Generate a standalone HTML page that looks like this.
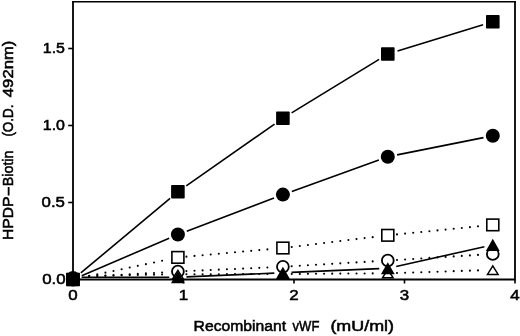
<!DOCTYPE html>
<html><head><meta charset="utf-8"><title>Figure</title>
<style>html,body{margin:0;padding:0;background:#fff}svg{display:block}</style>
</head><body>
<svg width="520" height="336" viewBox="0 0 520 336">
<rect width="520" height="336" fill="#fff"/>
<path d="M73.0 1.0 V279.5 H515.0 V1.0" fill="none" stroke="#000" stroke-width="1.8" stroke-linejoin="miter"/>
<line x1="72.1" y1="1.75" x2="515.9" y2="1.75" stroke="#000" stroke-width="1.5"/>
<line x1="73.00" y1="279.5" x2="73.00" y2="283.5" stroke="#000" stroke-width="1.6"/>
<line x1="183.50" y1="279.5" x2="183.50" y2="283.5" stroke="#000" stroke-width="1.6"/>
<line x1="294.00" y1="279.5" x2="294.00" y2="283.5" stroke="#000" stroke-width="1.6"/>
<line x1="404.50" y1="279.5" x2="404.50" y2="283.5" stroke="#000" stroke-width="1.6"/>
<line x1="515.00" y1="279.5" x2="515.00" y2="283.5" stroke="#000" stroke-width="1.6"/>
<line x1="68.2" y1="279.5" x2="73.0" y2="279.5" stroke="#000" stroke-width="1.6"/>
<line x1="68.2" y1="202.5" x2="73.0" y2="202.5" stroke="#000" stroke-width="1.6"/>
<line x1="68.2" y1="125.5" x2="73.0" y2="125.5" stroke="#000" stroke-width="1.6"/>
<line x1="68.2" y1="48.5" x2="73.0" y2="48.5" stroke="#000" stroke-width="1.6"/>
<circle cx="89.20" cy="275.74" r="1.05" fill="#000"/>
<circle cx="97.30" cy="275.61" r="1.05" fill="#000"/>
<circle cx="105.40" cy="275.47" r="1.05" fill="#000"/>
<circle cx="113.50" cy="275.34" r="1.05" fill="#000"/>
<circle cx="121.60" cy="275.21" r="1.05" fill="#000"/>
<circle cx="129.70" cy="275.08" r="1.05" fill="#000"/>
<circle cx="137.80" cy="274.95" r="1.05" fill="#000"/>
<circle cx="145.90" cy="274.82" r="1.05" fill="#000"/>
<circle cx="154.00" cy="274.69" r="1.05" fill="#000"/>
<circle cx="162.10" cy="274.56" r="1.05" fill="#000"/>
<circle cx="186.40" cy="274.28" r="1.05" fill="#000"/>
<circle cx="194.50" cy="274.25" r="1.05" fill="#000"/>
<circle cx="202.60" cy="274.23" r="1.05" fill="#000"/>
<circle cx="210.70" cy="274.21" r="1.05" fill="#000"/>
<circle cx="218.80" cy="274.18" r="1.05" fill="#000"/>
<circle cx="226.90" cy="274.16" r="1.05" fill="#000"/>
<circle cx="235.00" cy="274.14" r="1.05" fill="#000"/>
<circle cx="243.10" cy="274.11" r="1.05" fill="#000"/>
<circle cx="251.20" cy="274.09" r="1.05" fill="#000"/>
<circle cx="259.30" cy="274.07" r="1.05" fill="#000"/>
<circle cx="267.40" cy="274.04" r="1.05" fill="#000"/>
<circle cx="291.70" cy="273.94" r="1.05" fill="#000"/>
<circle cx="299.80" cy="273.89" r="1.05" fill="#000"/>
<circle cx="307.90" cy="273.83" r="1.05" fill="#000"/>
<circle cx="316.00" cy="273.78" r="1.05" fill="#000"/>
<circle cx="324.10" cy="273.73" r="1.05" fill="#000"/>
<circle cx="332.20" cy="273.67" r="1.05" fill="#000"/>
<circle cx="340.30" cy="273.62" r="1.05" fill="#000"/>
<circle cx="348.40" cy="273.56" r="1.05" fill="#000"/>
<circle cx="356.50" cy="273.51" r="1.05" fill="#000"/>
<circle cx="364.60" cy="273.45" r="1.05" fill="#000"/>
<circle cx="372.70" cy="273.40" r="1.05" fill="#000"/>
<circle cx="397.00" cy="273.00" r="1.05" fill="#000"/>
<circle cx="405.10" cy="272.74" r="1.05" fill="#000"/>
<circle cx="413.20" cy="272.48" r="1.05" fill="#000"/>
<circle cx="421.30" cy="272.22" r="1.05" fill="#000"/>
<circle cx="429.40" cy="271.95" r="1.05" fill="#000"/>
<circle cx="437.50" cy="271.69" r="1.05" fill="#000"/>
<circle cx="445.60" cy="271.43" r="1.05" fill="#000"/>
<circle cx="453.70" cy="271.17" r="1.05" fill="#000"/>
<circle cx="461.80" cy="270.90" r="1.05" fill="#000"/>
<circle cx="469.90" cy="270.64" r="1.05" fill="#000"/>
<circle cx="478.00" cy="270.38" r="1.05" fill="#000"/>
<circle cx="89.20" cy="276.83" r="1.05" fill="#000"/>
<circle cx="97.30" cy="276.34" r="1.05" fill="#000"/>
<circle cx="105.40" cy="275.85" r="1.05" fill="#000"/>
<circle cx="113.50" cy="275.37" r="1.05" fill="#000"/>
<circle cx="121.60" cy="274.88" r="1.05" fill="#000"/>
<circle cx="129.70" cy="274.39" r="1.05" fill="#000"/>
<circle cx="137.80" cy="273.91" r="1.05" fill="#000"/>
<circle cx="145.90" cy="273.42" r="1.05" fill="#000"/>
<circle cx="154.00" cy="272.94" r="1.05" fill="#000"/>
<circle cx="162.10" cy="272.45" r="1.05" fill="#000"/>
<circle cx="186.40" cy="271.12" r="1.05" fill="#000"/>
<circle cx="194.50" cy="270.76" r="1.05" fill="#000"/>
<circle cx="202.60" cy="270.39" r="1.05" fill="#000"/>
<circle cx="210.70" cy="270.03" r="1.05" fill="#000"/>
<circle cx="218.80" cy="269.67" r="1.05" fill="#000"/>
<circle cx="226.90" cy="269.31" r="1.05" fill="#000"/>
<circle cx="235.00" cy="268.94" r="1.05" fill="#000"/>
<circle cx="243.10" cy="268.58" r="1.05" fill="#000"/>
<circle cx="251.20" cy="268.22" r="1.05" fill="#000"/>
<circle cx="259.30" cy="267.86" r="1.05" fill="#000"/>
<circle cx="267.40" cy="267.49" r="1.05" fill="#000"/>
<circle cx="291.70" cy="266.27" r="1.05" fill="#000"/>
<circle cx="299.80" cy="265.79" r="1.05" fill="#000"/>
<circle cx="307.90" cy="265.30" r="1.05" fill="#000"/>
<circle cx="316.00" cy="264.81" r="1.05" fill="#000"/>
<circle cx="324.10" cy="264.33" r="1.05" fill="#000"/>
<circle cx="332.20" cy="263.84" r="1.05" fill="#000"/>
<circle cx="340.30" cy="263.35" r="1.05" fill="#000"/>
<circle cx="348.40" cy="262.87" r="1.05" fill="#000"/>
<circle cx="356.50" cy="262.38" r="1.05" fill="#000"/>
<circle cx="364.60" cy="261.89" r="1.05" fill="#000"/>
<circle cx="372.70" cy="261.41" r="1.05" fill="#000"/>
<circle cx="397.00" cy="259.93" r="1.05" fill="#000"/>
<circle cx="405.10" cy="259.43" r="1.05" fill="#000"/>
<circle cx="413.20" cy="258.93" r="1.05" fill="#000"/>
<circle cx="421.30" cy="258.43" r="1.05" fill="#000"/>
<circle cx="429.40" cy="257.92" r="1.05" fill="#000"/>
<circle cx="437.50" cy="257.42" r="1.05" fill="#000"/>
<circle cx="445.60" cy="256.92" r="1.05" fill="#000"/>
<circle cx="453.70" cy="256.42" r="1.05" fill="#000"/>
<circle cx="461.80" cy="255.92" r="1.05" fill="#000"/>
<circle cx="469.90" cy="255.42" r="1.05" fill="#000"/>
<circle cx="478.00" cy="254.92" r="1.05" fill="#000"/>
<circle cx="89.20" cy="276.09" r="1.05" fill="#000"/>
<circle cx="97.30" cy="274.38" r="1.05" fill="#000"/>
<circle cx="105.40" cy="272.67" r="1.05" fill="#000"/>
<circle cx="113.50" cy="270.97" r="1.05" fill="#000"/>
<circle cx="121.60" cy="269.26" r="1.05" fill="#000"/>
<circle cx="129.70" cy="267.55" r="1.05" fill="#000"/>
<circle cx="137.80" cy="265.85" r="1.05" fill="#000"/>
<circle cx="145.90" cy="264.14" r="1.05" fill="#000"/>
<circle cx="154.00" cy="262.44" r="1.05" fill="#000"/>
<circle cx="162.10" cy="260.73" r="1.05" fill="#000"/>
<circle cx="186.40" cy="256.64" r="1.05" fill="#000"/>
<circle cx="194.50" cy="255.91" r="1.05" fill="#000"/>
<circle cx="202.60" cy="255.19" r="1.05" fill="#000"/>
<circle cx="210.70" cy="254.46" r="1.05" fill="#000"/>
<circle cx="218.80" cy="253.74" r="1.05" fill="#000"/>
<circle cx="226.90" cy="253.01" r="1.05" fill="#000"/>
<circle cx="235.00" cy="252.29" r="1.05" fill="#000"/>
<circle cx="243.10" cy="251.56" r="1.05" fill="#000"/>
<circle cx="251.20" cy="250.84" r="1.05" fill="#000"/>
<circle cx="259.30" cy="250.11" r="1.05" fill="#000"/>
<circle cx="267.40" cy="249.39" r="1.05" fill="#000"/>
<circle cx="291.70" cy="246.93" r="1.05" fill="#000"/>
<circle cx="299.80" cy="245.95" r="1.05" fill="#000"/>
<circle cx="307.90" cy="244.97" r="1.05" fill="#000"/>
<circle cx="316.00" cy="243.99" r="1.05" fill="#000"/>
<circle cx="324.10" cy="243.01" r="1.05" fill="#000"/>
<circle cx="332.20" cy="242.03" r="1.05" fill="#000"/>
<circle cx="340.30" cy="241.05" r="1.05" fill="#000"/>
<circle cx="348.40" cy="240.07" r="1.05" fill="#000"/>
<circle cx="356.50" cy="239.09" r="1.05" fill="#000"/>
<circle cx="364.60" cy="238.11" r="1.05" fill="#000"/>
<circle cx="372.70" cy="237.13" r="1.05" fill="#000"/>
<circle cx="397.00" cy="234.39" r="1.05" fill="#000"/>
<circle cx="405.10" cy="233.59" r="1.05" fill="#000"/>
<circle cx="413.20" cy="232.78" r="1.05" fill="#000"/>
<circle cx="421.30" cy="231.98" r="1.05" fill="#000"/>
<circle cx="429.40" cy="231.18" r="1.05" fill="#000"/>
<circle cx="437.50" cy="230.38" r="1.05" fill="#000"/>
<circle cx="445.60" cy="229.58" r="1.05" fill="#000"/>
<circle cx="453.70" cy="228.77" r="1.05" fill="#000"/>
<circle cx="461.80" cy="227.97" r="1.05" fill="#000"/>
<circle cx="469.90" cy="227.17" r="1.05" fill="#000"/>
<circle cx="478.00" cy="226.37" r="1.05" fill="#000"/>
<line x1="81.60" y1="277.29" x2="169.30" y2="277.21" stroke="#000" stroke-width="1.6"/>
<line x1="186.49" y1="276.84" x2="274.31" y2="273.11" stroke="#000" stroke-width="1.6"/>
<line x1="291.49" y1="272.39" x2="379.21" y2="268.66" stroke="#000" stroke-width="1.6"/>
<line x1="396.19" y1="266.43" x2="484.41" y2="246.77" stroke="#000" stroke-width="1.6"/>
<line x1="81.73" y1="275.75" x2="169.17" y2="238.25" stroke="#000" stroke-width="1.6"/>
<line x1="186.78" y1="231.13" x2="274.02" y2="197.97" stroke="#000" stroke-width="1.6"/>
<line x1="291.84" y1="191.38" x2="378.86" y2="159.97" stroke="#000" stroke-width="1.6"/>
<line x1="397.12" y1="154.89" x2="483.48" y2="137.61" stroke="#000" stroke-width="1.6"/>
<line x1="80.82" y1="272.96" x2="170.08" y2="198.29" stroke="#000" stroke-width="1.6"/>
<line x1="186.26" y1="185.90" x2="274.54" y2="124.10" stroke="#000" stroke-width="1.6"/>
<line x1="291.60" y1="112.92" x2="379.10" y2="59.33" stroke="#000" stroke-width="1.6"/>
<line x1="397.55" y1="51.01" x2="483.05" y2="24.74" stroke="#000" stroke-width="1.6"/>
<circle cx="73.00" cy="277.80" r="5.9" fill="#fff" stroke="#000" stroke-width="1.8"/>
<circle cx="177.90" cy="271.50" r="5.9" fill="#fff" stroke="#000" stroke-width="1.8"/>
<circle cx="282.90" cy="266.80" r="5.9" fill="#fff" stroke="#000" stroke-width="1.8"/>
<circle cx="387.80" cy="260.50" r="5.9" fill="#fff" stroke="#000" stroke-width="1.8"/>
<circle cx="492.80" cy="254.00" r="5.9" fill="#fff" stroke="#000" stroke-width="1.8"/>
<rect x="67.00" y="273.70" width="12" height="11.6" fill="#fff" stroke="#000" stroke-width="1.6"/>
<rect x="171.90" y="251.60" width="12" height="11.6" fill="#fff" stroke="#000" stroke-width="1.6"/>
<rect x="276.90" y="242.20" width="12" height="11.6" fill="#fff" stroke="#000" stroke-width="1.6"/>
<rect x="381.80" y="229.50" width="12" height="11.6" fill="#fff" stroke="#000" stroke-width="1.6"/>
<rect x="486.80" y="219.10" width="12" height="11.6" fill="#fff" stroke="#000" stroke-width="1.6"/>
<polygon points="73.00,272.05 67.70,280.55 78.30,280.55" fill="none" stroke="#000" stroke-width="1.5" stroke-linejoin="miter"/>
<polygon points="177.90,270.35 172.60,278.85 183.20,278.85" fill="none" stroke="#000" stroke-width="1.5" stroke-linejoin="miter"/>
<polygon points="282.90,270.05 277.60,278.55 288.20,278.55" fill="none" stroke="#000" stroke-width="1.5" stroke-linejoin="miter"/>
<polygon points="387.80,269.35 382.50,277.85 393.10,277.85" fill="none" stroke="#000" stroke-width="1.5" stroke-linejoin="miter"/>
<polygon points="492.80,265.95 487.50,274.45 498.10,274.45" fill="none" stroke="#000" stroke-width="1.5" stroke-linejoin="miter"/>
<polygon points="73.00,271.20 66.10,283.30 79.90,283.30" fill="#000"/>
<polygon points="177.90,271.10 171.00,283.20 184.80,283.20" fill="#000"/>
<polygon points="282.90,266.65 276.00,278.75 289.80,278.75" fill="#000"/>
<polygon points="387.80,262.20 380.90,274.30 394.70,274.30" fill="#000"/>
<polygon points="492.80,238.80 485.90,250.90 499.70,250.90" fill="#000"/>
<circle cx="73.00" cy="279.50" r="7" fill="#000"/>
<circle cx="177.90" cy="234.50" r="7" fill="#000"/>
<circle cx="282.90" cy="194.60" r="7" fill="#000"/>
<circle cx="387.80" cy="156.75" r="7" fill="#000"/>
<circle cx="492.80" cy="135.75" r="7" fill="#000"/>
<rect x="66.20" y="272.80" width="13.6" height="13.4" rx="0.8" fill="#000"/>
<rect x="171.10" y="185.05" width="13.6" height="13.4" rx="0.8" fill="#000"/>
<rect x="276.10" y="111.55" width="13.6" height="13.4" rx="0.8" fill="#000"/>
<rect x="381.00" y="47.30" width="13.6" height="13.4" rx="0.8" fill="#000"/>
<rect x="486.00" y="15.05" width="13.6" height="13.4" rx="0.8" fill="#000"/>
<g style="font-family:'Liberation Sans',Arial,sans-serif;font-size:15.5px;fill:#000;stroke:#000;stroke-width:0.55px">
<text x="42.20" y="284.10" textLength="23.4" lengthAdjust="spacingAndGlyphs">0.0</text>
<text x="41.60" y="207.10" textLength="23.4" lengthAdjust="spacingAndGlyphs">0.5</text>
<text x="42.80" y="130.10" textLength="22.2" lengthAdjust="spacingAndGlyphs">1.0</text>
<text x="42.80" y="53.10" textLength="22.2" lengthAdjust="spacingAndGlyphs">1.5</text>
<text x="68.30" y="299.5" textLength="9.4" lengthAdjust="spacingAndGlyphs">0</text>
<text x="178.80" y="299.5" textLength="9.4" lengthAdjust="spacingAndGlyphs">1</text>
<text x="289.30" y="299.5" textLength="9.4" lengthAdjust="spacingAndGlyphs">2</text>
<text x="399.80" y="299.5" textLength="9.4" lengthAdjust="spacingAndGlyphs">3</text>
<text x="510.30" y="299.5" textLength="9.4" lengthAdjust="spacingAndGlyphs">4</text>
<text y="331.0" style="white-space:pre"><tspan x="193.6" textLength="92.6" lengthAdjust="spacingAndGlyphs">Recombinant</tspan><tspan> </tspan><tspan x="292.6" textLength="26.8" lengthAdjust="spacingAndGlyphs">vWF</tspan><tspan>  </tspan><tspan x="330.4" textLength="63.6" lengthAdjust="spacingAndGlyphs">(mU/ml)</tspan></text>
<text transform="translate(13.3,0) rotate(-90)" style="white-space:pre"><tspan x="-240" textLength="43.6" lengthAdjust="spacingAndGlyphs">HPDP</tspan><tspan x="-196.2" textLength="10" lengthAdjust="spacingAndGlyphs">-</tspan><tspan x="-186.2" textLength="35.6" lengthAdjust="spacingAndGlyphs">Biotin</tspan><tspan>  </tspan><tspan x="-136.6" textLength="32" lengthAdjust="spacingAndGlyphs">(O.D.</tspan><tspan> </tspan><tspan x="-97.2" textLength="56.6" lengthAdjust="spacingAndGlyphs">492nm)</tspan></text>
</g>
</svg>
</body></html>
